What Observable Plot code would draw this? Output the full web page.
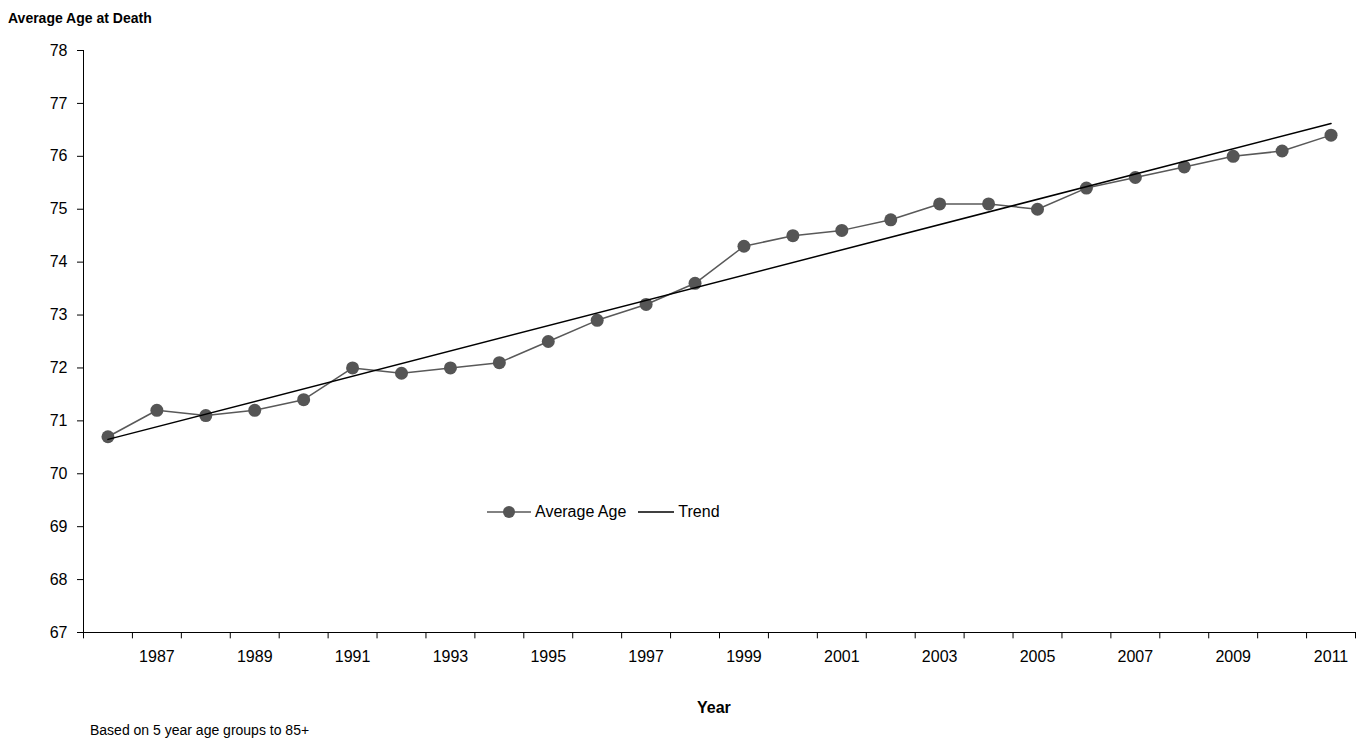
<!DOCTYPE html>
<html>
<head>
<meta charset="utf-8">
<script src="https://cdn.jsdelivr.net/npm/d3@7"></script>
<script src="https://cdn.jsdelivr.net/npm/@observablehq/plot@0.6"></script>
<style>
  body { margin: 0; background: #fff; font-family: "Liberation Sans", Arial, sans-serif; }
  #wrap { position: relative; width: 1366px; height: 740px; overflow: hidden; }
  .lbl { position: absolute; font-size: 15px; color: #000; }
  .bold { font-weight: bold; font-size: 14px; }
  #legend { position: absolute; left: 487px; top: 503px; display: flex; align-items: center; font-size: 16px; }
  #chart svg text { font-size: 16px; }
</style>
</head>
<body>
<div id="wrap">
  <div id="chart"></div>
  <div class="lbl bold" style="left:8px; top:10px;">Average Age at Death</div>
  <div class="lbl bold" style="left:697px; top:699px; font-size:16px;">Year</div>
  <div class="lbl" style="left:90px; top:722px; font-size:14px; line-height:16px;">Based on 5 year age groups to 85+</div>
  <div id="legend">
    <svg width="44" height="16"><line x1="0" y1="8" x2="44" y2="8" stroke="#595959" stroke-width="1.5"/><circle cx="22" cy="8" r="6" fill="#555"/></svg>
    <span style="margin:0 12px 0 4px;">Average Age</span>
    <svg width="36" height="16"><line x1="0" y1="8" x2="36" y2="8" stroke="#000" stroke-width="1.5"/></svg>
    <span style="margin-left:4px;">Trend</span>
  </div>
</div>
<script>
const years = d3.range(1986, 2012);
const ages = [70.7, 71.2, 71.1, 71.2, 71.4, 72.0, 71.9, 72.0, 72.1, 72.5, 72.9, 73.2, 73.6,
  74.3, 74.5, 74.6, 74.8, 75.1, 75.1, 75.0, 75.4, 75.6, 75.8, 76.0, 76.1, 76.4];
const trendYears = [1986, 2011];
const trendAges = [70.65, 76.62];
const xTickLabels = [1987, 1989, 1991, 1993, 1995, 1997, 1999, 2001, 2003, 2005, 2007, 2009, 2011];
const yTicks = d3.range(67, 79);
const boundaries = d3.range(1985.5, 2012, 1);

const data = years.map((y, i) => ({year: y, age: ages[i]}));
const trend = trendYears.map((y, i) => ({year: y, age: trendAges[i]}));

const chart = Plot.plot({
  width: 1366,
  height: 700,
  marginLeft: 83,
  marginRight: 11,
  marginTop: 50,
  marginBottom: 68,
  style: {fontFamily: "Liberation Sans, Arial, sans-serif", fontSize: "16px", color: "#000"},
  x: {domain: [1985.5, 2011.5]},
  y: {domain: [67, 78]},
  marks: [
    Plot.axisY({ticks: yTicks, tickSize: 6, tickPadding: 10, label: null}),
    Plot.axisX({ticks: xTickLabels, tickSize: 0, tickPadding: 18, tickFormat: d => String(d), label: null}),
    Plot.ruleY([67], {stroke: "#000"}),
    Plot.ruleX([1985.5], {y1: 67, y2: 78, stroke: "#000"}),
    Plot.ruleX(boundaries, {y1: 67, y2: 66.88, stroke: "#000"}),
    Plot.line(data, {x: "year", y: "age", stroke: "#595959", strokeWidth: 1.5}),
    Plot.dot(data, {x: "year", y: "age", r: 6.5, fill: "#555", stroke: "none"}),
    Plot.line(trend, {x: "year", y: "age", stroke: "#000", strokeWidth: 1.5})
  ]
});
d3.select('#chart').append(() => chart);
</script>
</body>
</html>
